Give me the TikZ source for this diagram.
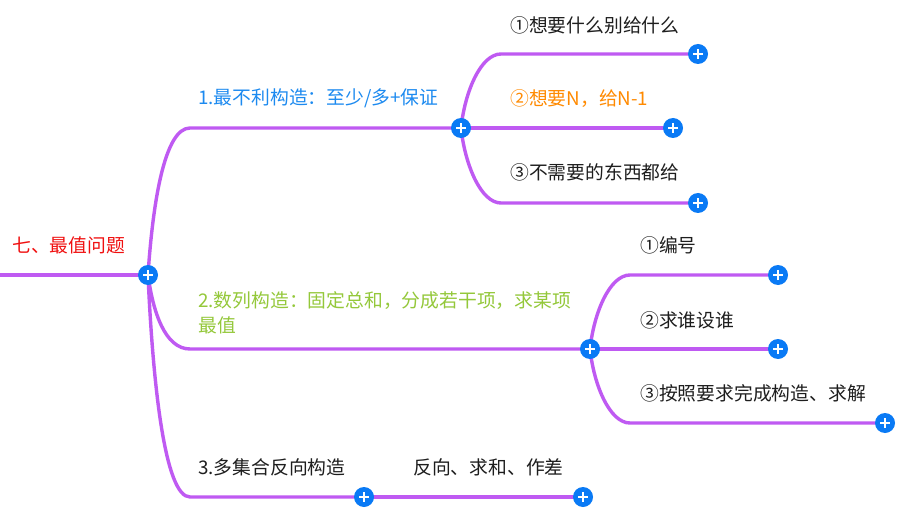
\documentclass[tikz,border=0pt]{standalone}
\usepackage{fontspec}
\setmainfont{Noto Sans CJK SC}
\usetikzlibrary{backgrounds}
\definecolor{linepurple}{HTML}{BF5AF2}
\definecolor{btnblue}{HTML}{0A7AF5}
\definecolor{txtblue}{HTML}{1C8AF0}
\definecolor{txtgreen}{HTML}{94C83A}
\definecolor{txtorange}{HTML}{FF8A00}
\definecolor{txtred}{HTML}{F01010}
\definecolor{txtdark}{HTML}{1E1E1E}
\tikzset{
  branch/.style={draw=linepurple,line width=3.4pt},
  plusbtn/.style={circle,fill=btnblue,minimum size=20pt,inner sep=0pt,
    path picture={\draw[white,line width=2.6pt]
      ([xshift=-5pt]path picture bounding box.center) -- ([xshift=5pt]path picture bounding box.center)
      ([yshift=-5pt]path picture bounding box.center) -- ([yshift=5pt]path picture bounding box.center);}},
  topic/.style={anchor=west,inner sep=0pt,text=txtdark,align=left,
    font=\fontsize{18.8}{25}\selectfont}
}
\begin{document}
\begin{tikzpicture}[x=1pt,y=1pt]
\useasboundingbox (0,0) rectangle (909,512);
\coordinate (start) at (0,237);
\node[plusbtn] (p0) at (148,237) {};
\node[plusbtn] (p1) at (461,384) {};
\node[plusbtn] (p2) at (590,163) {};
\node[plusbtn] (p3) at (364,15) {};
\node[plusbtn] (p31) at (583,15) {};
\node[plusbtn] (p11) at (698,458) {};
\node[plusbtn] (p12) at (673,384) {};
\node[plusbtn] (p13) at (698,309) {};
\node[plusbtn] (p21) at (778,237) {};
\node[plusbtn] (p22) at (778,163) {};
\node[plusbtn] (p23) at (885,89) {};
\node[topic,text=txtred] (root) at (12,267) {七、最值问题};
\node[topic,text=txtblue] (t1) at (198,414) {1.最不利构造：至少/多+保证};
\node[topic,text=txtgreen] (t2) at (198,199.5) {2.数列构造：固定总和，分成若干项，求某项\\最值};
\node[topic] (t3) at (198,45) {3.多集合反向构造};
\node[topic] (t31) at (413,45) {反向、求和、作差};
\node[topic] (t11) at (510,487) {①想要什么别给什么};
\node[topic,text=txtorange] (t12) at (510,413) {②想要N，给N-1};
\node[topic] (t13) at (510,340) {③不需要的东西都给};
\node[topic] (t21) at (640,267) {①编号};
\node[topic] (t22) at (640,192) {②求谁设谁};
\node[topic] (t23) at (640,119) {③按照要求完成构造、求解};
\begin{scope}[on background layer]
\fill[white] (0,0) rectangle (909,512);
\draw[branch] (start) -- (p0.center);
\draw[branch] (p0.center) .. controls +(5,75) and +(-25,0) .. ([xshift=42pt]p0.center |- p1.center) -- (p1.center);
\draw[branch] (p0.center) .. controls +(5,-37) and +(-25,0) .. ([xshift=42pt]p0.center |- p2.center) -- (p2.center);
\draw[branch] (p0.center) .. controls +(5,-111) and +(-25,0) .. ([xshift=42pt]p0.center |- p3.center) -- (p3.center);
\draw[branch] (p3.center) -- (p31.center);
\draw[branch] (p1.center) .. controls +(4,37) and +(-20,0) .. ([xshift=40pt]p1.center |- p11.center) -- (p11.center);
\draw[branch] (p1.center) -- (p12.center);
\draw[branch] (p1.center) .. controls +(4,-37) and +(-20,0) .. ([xshift=40pt]p1.center |- p13.center) -- (p13.center);
\draw[branch] (p2.center) .. controls +(4,37) and +(-20,0) .. ([xshift=40pt]p2.center |- p21.center) -- (p21.center);
\draw[branch] (p2.center) -- (p22.center);
\draw[branch] (p2.center) .. controls +(4,-37) and +(-20,0) .. ([xshift=40pt]p2.center |- p23.center) -- (p23.center);
\end{scope}
\end{tikzpicture}
\end{document}
